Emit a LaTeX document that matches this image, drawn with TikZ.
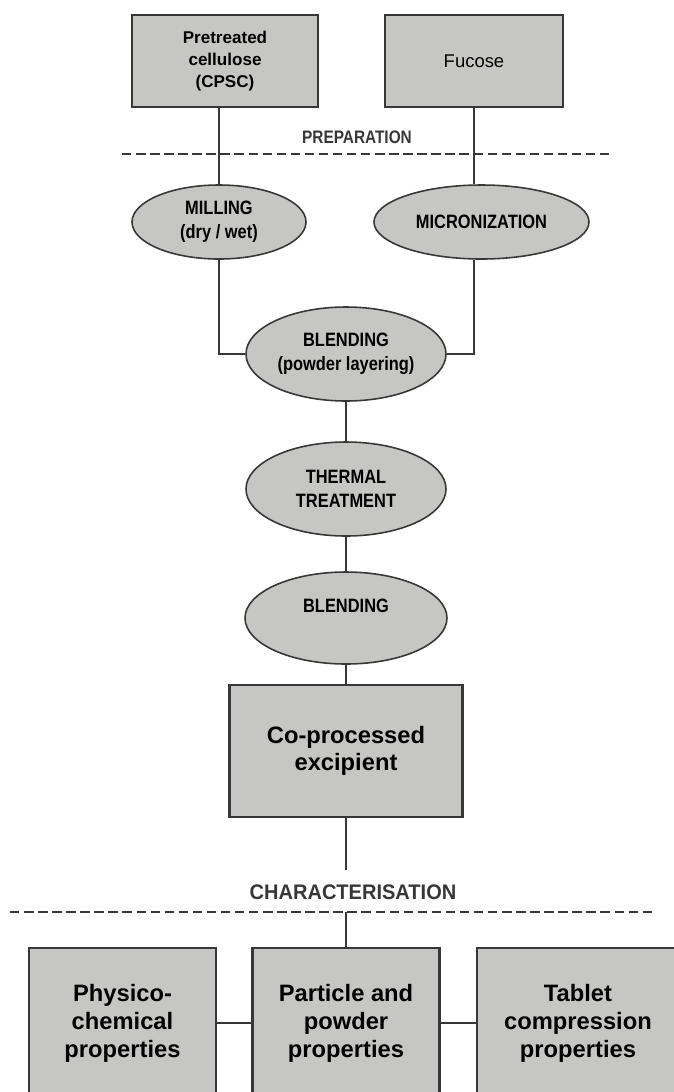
\documentclass[tikz,border=0pt]{standalone}
\usepackage{fontspec}
\setmainfont{Liberation Sans}
\newfontfamily\narrowsf[FakeStretch=0.85]{Liberation Sans}
\newfontfamily\semisf[FakeStretch=0.95]{Liberation Sans}
\usetikzlibrary{shapes.geometric}
\definecolor{boxgray}{RGB}{198,199,196}
\definecolor{edge}{RGB}{55,55,55}

\begin{document}
\begin{tikzpicture}[every node/.style={align=center, text=black}, bx/.style={draw=edge, line width=1.2pt, fill=boxgray, inner sep=2pt}, el/.style={ellipse, draw=edge, line width=0.9pt, fill=boxgray, inner sep=1pt, font=\narrowsf\bfseries\fontsize{11}{13.5}\selectfont}, ln/.style={draw=edge, line width=0.9pt}, sep/.style={draw=edge, line width=1.6pt, dash pattern=on 5.4pt off 2.6pt}]
	\useasboundingbox (0,0) rectangle (13.48,-21.84);
	\clip (0,0) rectangle (13.48,-21.84);
	% preparation
	\node[bx, minimum width=3.72cm, minimum height=1.84cm, font=\bfseries\fontsize{9.7}{12.5}\selectfont] (cp) at (4.50,-1.22) {Pretreated\\ cellulose\\ (CPSC)};
	\node[bx, minimum width=3.56cm, minimum height=1.84cm, font=\fontsize{10.5}{12.5}\selectfont] (fu) at (9.48,-1.22) {Fucose};
	\node[text=edge, font=\narrowsf\bfseries\fontsize{10.3}{12}\selectfont] (prep) at (7.14,-2.74) {PREPARATION};
	\draw[sep] (2.44,-3.08) -- (12.24,-3.08);
	\node[el, minimum width=3.48cm, minimum height=1.48cm] (mi) at (4.38,-4.44) {MILLING\\ (dry / wet)};
	\node[el, minimum width=4.30cm, minimum height=1.48cm] (mz) at (9.63,-4.44) {MICRONIZATION};
	\node[el, minimum width=4.0cm, minimum height=1.88cm] (bl) at (6.92,-7.08) {BLENDING\\ (powder layering)};
	\node[el, minimum width=4.0cm, minimum height=1.88cm] (th) at (6.92,-9.78) {THERMAL\\ TREATMENT};
	\node[el, minimum width=4.04cm, minimum height=1.84cm] (b2) at (6.92,-12.36) {BLENDING\\ \mbox{}};
	\node[bx, minimum width=4.66cm, minimum height=2.64cm, font=\bfseries\fontsize{13.5}{15.5}\selectfont] (ex) at (6.92,-15.02) {Co-processed\\ excipient};
	\draw[ln] (cp.south -| mi.north) -- (mi.north);
	\draw[ln] (fu.south) -- (fu.south |- mz.north);
	\draw[ln] (mi.south) |- (bl.west);
	\draw[ln] (fu.south |- mz.south) |- (bl.east);
	\draw[ln] (bl) -- (th);
	\draw[ln] (th) -- (b2);
	\draw[ln] (b2) -- (ex);
	% characterisation
	\node[text=edge, font=\semisf\bfseries\fontsize{12}{14}\selectfont] (char) at (7.06,-17.84) {CHARACTERISATION};
	\coordinate (c1) at (6.92,-17.40);
	\coordinate (c2) at (6.92,-18.24);
	\draw[ln] (ex) -- (c1);
	\draw[sep] (0.20,-18.24) -- (13.12,-18.24);
	\node[bx, minimum width=3.74cm, minimum height=3.0cm, font=\bfseries\fontsize{13.5}{16}\selectfont] (pc) at (2.45,-20.46) {Physico-\\ chemical\\ properties};
	\node[bx, minimum width=3.74cm, minimum height=3.0cm, font=\bfseries\fontsize{13.5}{16}\selectfont] (pp) at (6.92,-20.46) {Particle and\\ powder\\ properties};
	\node[bx, minimum width=4.04cm, minimum height=3.0cm, font=\bfseries\fontsize{13.5}{16}\selectfont] (tc) at (11.56,-20.46) {Tablet\\ compression\\ properties};
	\draw[ln] (c2) -- (pp);
	\draw[ln] (pc) -- (pp);
	\draw[ln] (pp) -- (tc);
\end{tikzpicture}
\end{document}
